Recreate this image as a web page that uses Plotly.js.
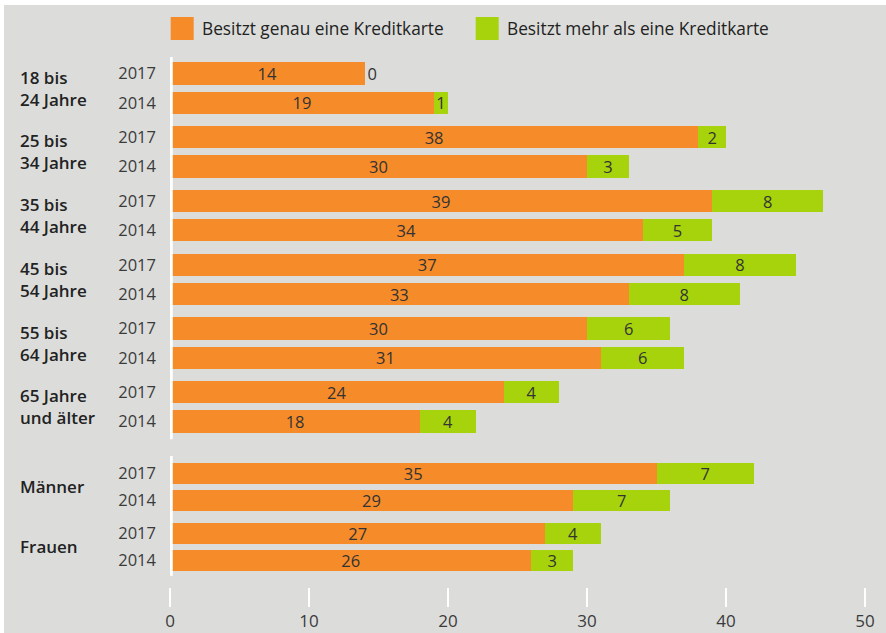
<!DOCTYPE html>
<html><head><meta charset="utf-8">
<script src="https://cdn.plot.ly/plotly-3.0.1.min.js"></script>
<style>html,body{margin:0;padding:0;background:#fff;overflow:hidden;} #chart{position:absolute;left:4px;top:5px;width:882px;height:628px;}</style>
</head><body><div id="chart"></div>
<script>
// ---- data ----
const groups = ["18 bis<br>24 Jahre","25 bis<br>34 Jahre","35 bis<br>44 Jahre","45 bis<br>54 Jahre","55 bis<br>64 Jahre","65 Jahre<br>und älter","Männer","Frauen"];
const years = ["2017","2014"];
const oneCard2017 = [14,38,39,37,30,24,35,27];
const oneCard2014 = [19,30,34,33,31,18,29,26];
const moreCards2017 = [0,2,8,8,6,4,7,4];
const moreCards2014 = [1,3,5,8,6,4,7,3];
const xTicks = [0,10,20,30,40,50];
const seriesNames = ["Besitzt genau eine Kreditkarte","Besitzt mehr als eine Kreditkarte"];

// ---- layout helpers ----
const AGE_COUNT = 6;
const FONT = '"Open Sans", "Noto Sans", sans-serif';
function rowPos(g, r) {
  if (g < AGE_COUNT) return g * 63.75 + r * 29.3;
  return 399.5 + (g - AGE_COUNT) * 60 + r * 27.3;
}
function rowWidth(g) { return g < AGE_COUNT ? 22.3 : 21; }
// plot area in page pixels: x 170.3..865.3, y 57..587
function px2paperX(px) { return (px - 170.3) / 695; }
function px2paperY(py) { return (587 - py) / 530; }

const ys = [], widths = [], ticktext = [], one = [], more = [];
groups.forEach((g, i) => {
  const oneVals = [oneCard2017[i], oneCard2014[i]];
  const moreVals = [moreCards2017[i], moreCards2014[i]];
  years.forEach((yr, r) => {
    ys.push(rowPos(i, r));
    widths.push(rowWidth(i));
    ticktext.push(yr);
    one.push(oneVals[r]);
    more.push(moreVals[r]);
  });
});

const textFont = {family: FONT, size: 16.5, color: '#333333'};
const common = {
  type: 'bar', orientation: 'h', y: ys, width: widths,
  insidetextanchor: 'middle', textangle: 0, constraintext: 'none',
  textfont: textFont, insidetextfont: textFont, outsidetextfont: textFont,
  hoverinfo: 'skip', showlegend: false, cliponaxis: false
};
const traces = [
  Object.assign({}, common, {
    name: seriesNames[0], x: one, text: one.map(String), textposition: 'inside',
    marker: {color: '#f68b29', line: {width: 0}}
  }),
  Object.assign({}, common, {
    name: seriesNames[1], x: more, text: more.map(String),
    textposition: more.map(v => v === 0 ? 'outside' : 'inside'),
    marker: {color: '#a6d30b', line: {width: 0}}
  })
];

const shapes = [];
// white axis line at 0, split into the two sections
const ageTop = rowPos(0, 0) - 16.5, ageBottom = rowPos(AGE_COUNT - 1, 1) + 17.7;
const genTop = rowPos(AGE_COUNT, 0) - 17, genBottom = rowPos(groups.length - 1, 1) + 15.5;
[[ageTop, ageBottom], [genTop, genBottom]].forEach(([a, b]) => {
  shapes.push({type: 'line', xref: 'x', yref: 'y', x0: 0, x1: 0, y0: a, y1: b,
    line: {color: '#ffffff', width: 5.5}, layer: 'above'});
});
// legend squares
const legendColors = ['#f68b29', '#a6d30b'];
const legendX = [171, 476];
const annotations = [];
seriesNames.forEach((n, i) => {
  shapes.push({type: 'rect', xref: 'paper', yref: 'paper',
    x0: px2paperX(legendX[i]), x1: px2paperX(legendX[i] + 23),
    y0: px2paperY(40), y1: px2paperY(17),
    fillcolor: legendColors[i], line: {width: 0}});
  annotations.push({xref: 'paper', yref: 'paper', x: px2paperX(legendX[i] + 29), y: px2paperY(28.5),
    xanchor: 'left', yanchor: 'middle', showarrow: false, text: n,
    font: {family: FONT, size: 17.3, color: '#222222'}});
});
// group labels
groups.forEach((g, i) => {
  annotations.push({xref: 'paper', yref: 'y', x: px2paperX(18), y: (rowPos(i, 0) + rowPos(i, 1)) / 2,
    xanchor: 'left', yanchor: 'middle', align: 'left', showarrow: false, text: g,
    font: {family: FONT, size: 17, color: '#222222', weight: 600}});
});

const layout = {
  width: 882, height: 628,
  margin: {l: 166, r: 21, t: 52, b: 46, pad: 0},
  paper_bgcolor: '#dcdddb', plot_bgcolor: '#dcdddb',
  barmode: 'stack', showlegend: false,
  font: {family: FONT, color: '#333333'},
  xaxis: {range: [0, 50], tickvals: xTicks, ticktext: xTicks.map(String),
    ticks: 'outside', ticklen: 19, tickwidth: 2.5, tickcolor: '#ffffff',
    showgrid: false, zeroline: false, showline: false,
    tickfont: {family: FONT, size: 17, color: '#3a3a3a'}, fixedrange: true},
  yaxis: {range: [513.5, -16.5], tickvals: ys, ticktext: ticktext, ticks: '',
    showgrid: false, zeroline: false, showline: false, ticklabelstandoff: 13,
    tickfont: {family: FONT, size: 16.5, color: '#3a3a3a'}, fixedrange: true},
  shapes: shapes, annotations: annotations
};
Plotly.newPlot('chart', traces, layout, {staticPlot: true, displayModeBar: false});
</script></body></html>
